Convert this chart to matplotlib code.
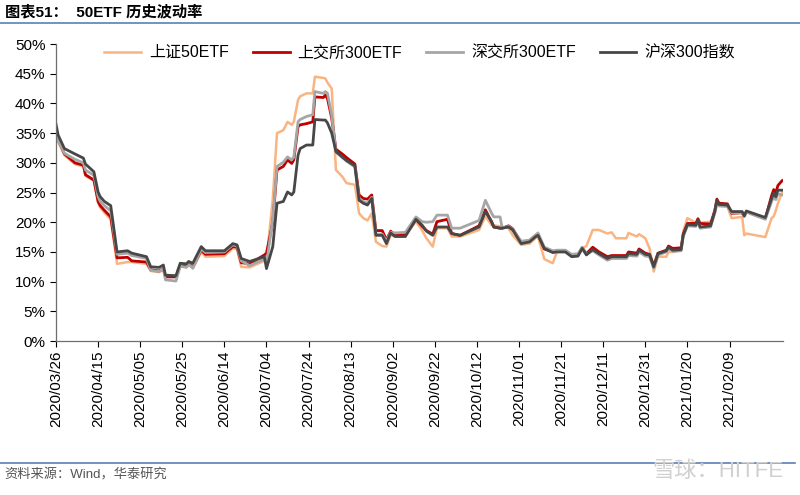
import datetime as dt
import matplotlib
matplotlib.use("Agg")
import matplotlib.pyplot as plt
import matplotlib.dates as mdates
from matplotlib.lines import Line2D
from matplotlib.ticker import MultipleLocator, FuncFormatter

plt.rcParams['font.family'] = ['Liberation Sans', 'Noto Sans CJK SC']

# --- DATA (historical volatility, %) ---
dates = [
    "2020-03-26", "2020-03-27", "2020-03-30", "2020-04-04", "2020-04-08", "2020-04-09",
    "2020-04-13", "2020-04-15", "2020-04-16", "2020-04-18", "2020-04-21", "2020-04-24",
    "2020-04-29", "2020-05-01", "2020-05-08", "2020-05-10", "2020-05-14", "2020-05-16",
    "2020-05-17", "2020-05-22", "2020-05-24", "2020-05-27", "2020-05-28", "2020-05-30",
    "2020-06-03", "2020-06-05", "2020-06-14", "2020-06-18", "2020-06-20", "2020-06-22",
    "2020-06-26", "2020-07-03", "2020-07-04", "2020-07-07", "2020-07-09", "2020-07-12",
    "2020-07-14", "2020-07-16", "2020-07-17", "2020-07-19", "2020-07-20", "2020-07-23",
    "2020-07-26", "2020-07-27", "2020-07-31", "2020-08-01", "2020-08-02", "2020-08-04",
    "2020-08-06", "2020-08-09", "2020-08-11", "2020-08-15", "2020-08-17", "2020-08-19",
    "2020-08-21", "2020-08-23", "2020-08-25", "2020-08-28", "2020-08-30", "2020-09-01",
    "2020-09-03", "2020-09-08", "2020-09-13", "2020-09-16", "2020-09-18", "2020-09-21",
    "2020-09-23", "2020-09-28", "2020-09-30", "2020-10-04", "2020-10-13", "2020-10-16",
    "2020-10-19", "2020-10-20", "2020-10-23", "2020-10-24", "2020-10-27", "2020-10-29",
    "2020-11-02", "2020-11-06", "2020-11-09", "2020-11-10", "2020-11-13", "2020-11-17",
    "2020-11-19", "2020-11-23", "2020-11-26", "2020-11-29", "2020-12-01", "2020-12-03",
    "2020-12-06", "2020-12-09", "2020-12-13", "2020-12-15", "2020-12-17", "2020-12-22",
    "2020-12-23", "2020-12-27", "2020-12-28", "2020-12-31", "2021-01-02", "2021-01-04",
    "2021-01-06", "2021-01-10", "2021-01-11", "2021-01-13", "2021-01-17", "2021-01-18",
    "2021-01-20", "2021-01-24", "2021-01-25", "2021-01-26", "2021-01-31", "2021-02-02",
    "2021-02-03", "2021-02-04", "2021-02-08", "2021-02-10", "2021-02-15", "2021-02-16",
    "2021-02-17", "2021-02-26", "2021-03-01", "2021-03-02", "2021-03-03", "2021-03-04",
    "2021-03-06",
]

hs300_index = [
    36.5, 34.7, 32.4, 31.5, 30.8, 29.8, 28.5, 25.1, 24.3, 23.5, 22.8, 15.0,
    15.2, 14.8, 14.2, 12.5, 12.4, 12.8, 11.1, 11.0, 13.1, 13.0, 13.4, 13.1,
    15.9, 15.2, 15.2, 16.4, 16.2, 13.9, 13.4, 14.2, 12.2, 15.9, 23.2, 23.5,
    25.1, 24.6, 25.1, 31.3, 32.4, 33.0, 33.0, 37.3, 37.2, 37.2, 36.7, 35.0,
    31.9, 31.0, 30.4, 29.5, 23.7, 23.2, 22.9, 24.0, 17.8, 17.8, 16.4, 18.2,
    17.6, 17.6, 20.5, 19.5, 18.5, 17.8, 19.2, 19.2, 18.1, 17.8, 19.2, 21.8,
    20.1, 19.2, 19.0, 19.0, 19.2, 18.7, 16.4, 16.7, 17.6, 17.8, 15.6, 14.9,
    15.0, 15.0, 14.2, 14.3, 15.6, 14.5, 15.4, 14.7, 13.9, 14.2, 14.2, 14.2,
    14.7, 14.6, 15.3, 14.6, 14.5, 12.5, 14.7, 15.2, 15.8, 15.3, 15.4, 17.8,
    19.6, 19.5, 20.4, 19.2, 19.4, 21.8, 23.7, 23.0, 22.9, 21.8, 21.8, 21.1,
    21.9, 20.8, 24.0, 24.9, 24.3, 25.4, 25.4,
]

sse300_etf = [
    35.8, 34.0, 31.5, 30.0, 29.6, 28.0, 27.1, 23.5, 22.8, 22.0, 20.9, 14.0,
    14.1, 13.5, 13.3, 12.0, 11.8, 12.2, 10.8, 10.8, 12.7, 12.5, 13.0, 12.5,
    15.3, 14.6, 14.7, 15.9, 15.8, 13.2, 13.0, 14.5, 14.8, 20.0, 28.8, 29.4,
    30.5, 29.9, 30.5, 36.1, 36.4, 36.6, 36.9, 41.1, 41.0, 41.4, 40.8, 37.5,
    32.3, 31.5, 30.9, 29.8, 24.6, 24.0, 23.9, 24.6, 18.6, 18.6, 17.0, 18.5,
    17.9, 17.9, 20.5, 19.3, 18.6, 18.0, 20.1, 20.5, 18.1, 17.8, 19.4, 22.1,
    20.0, 19.2, 19.0, 19.0, 19.4, 18.9, 16.6, 16.9, 17.8, 18.0, 15.5, 15.0,
    15.1, 15.2, 14.4, 14.5, 15.7, 14.7, 15.8, 15.0, 14.2, 14.4, 14.4, 14.4,
    15.0, 14.8, 15.5, 14.8, 14.6, 12.7, 14.8, 15.3, 16.0, 15.6, 15.7, 18.0,
    19.8, 19.8, 20.6, 19.8, 19.7, 22.0, 23.9, 23.2, 23.1, 21.5, 21.6, 21.0,
    21.8, 20.6, 24.5, 25.5, 25.0, 26.2, 27.0,
]

szse300_etf = [
    35.2, 33.8, 31.6, 30.6, 30.0, 28.8, 27.9, 24.3, 23.5, 22.8, 21.9, 14.6,
    14.8, 14.4, 13.9, 11.9, 11.7, 12.2, 10.3, 10.1, 12.6, 12.4, 12.9, 12.3,
    15.5, 14.9, 15.0, 16.2, 16.0, 13.5, 12.7, 13.8, 13.0, 20.5, 29.4, 30.1,
    31.0, 30.5, 31.0, 36.9, 37.3, 37.8, 38.1, 42.0, 41.7, 42.0, 41.7, 38.0,
    31.8, 30.9, 30.3, 29.3, 24.0, 23.5, 23.2, 24.2, 18.0, 18.0, 16.8, 18.3,
    18.2, 18.3, 20.9, 20.1, 20.0, 20.1, 21.2, 21.2, 19.0, 19.0, 20.3, 23.7,
    21.5, 20.9, 20.9, 19.0, 19.3, 18.8, 16.8, 17.0, 17.9, 18.2, 15.8, 15.2,
    15.3, 15.3, 14.6, 14.7, 15.8, 14.6, 15.2, 14.5, 13.6, 13.9, 13.9, 13.9,
    14.4, 14.3, 15.0, 14.3, 14.2, 12.3, 14.5, 15.0, 15.6, 15.1, 15.2, 17.6,
    19.4, 19.3, 20.2, 19.0, 19.2, 21.6, 23.5, 22.8, 22.7, 21.6, 21.6, 21.0,
    21.7, 20.5, 23.5, 24.3, 23.8, 24.8, 24.6,
]

sz50_etf = [
    34.8, 33.5, 31.3, 29.8, 29.4, 27.8, 27.0, 23.3, 22.5, 21.6, 20.5, 13.0,
    13.3, 13.3, 13.0, 11.8, 11.6, 12.0, 10.9, 11.0, 12.9, 12.7, 13.1, 12.2,
    15.0, 14.2, 14.3, 15.6, 15.5, 12.5, 12.4, 13.5, 13.6, 24.0, 35.0, 35.5,
    36.9, 36.4, 36.9, 40.6, 41.2, 41.7, 41.7, 44.5, 44.3, 44.2, 43.5, 42.5,
    28.8, 27.7, 26.6, 26.3, 21.5, 20.7, 20.3, 21.5, 16.7, 16.0, 15.9, 17.8,
    17.8, 17.9, 20.1, 18.6, 17.3, 15.9, 19.0, 19.0, 17.6, 17.6, 18.7, 21.0,
    19.5, 19.5, 19.3, 19.2, 19.0, 17.8, 16.2, 16.4, 17.4, 17.6, 13.8, 13.1,
    15.0, 15.0, 14.4, 14.5, 15.6, 16.0, 18.7, 18.7, 18.1, 18.3, 17.3, 17.3,
    18.2, 17.6, 18.0, 17.3, 15.6, 11.7, 14.2, 14.2, 15.0, 15.0, 15.3, 18.5,
    20.7, 19.9, 20.2, 19.9, 20.1, 21.5, 22.9, 22.7, 22.6, 20.7, 20.9, 17.8,
    18.1, 17.5, 20.7, 21.0, 22.0, 23.2, 25.1,
]

series_names = ["上证50ETF", "上交所300ETF", "深交所300ETF", "沪深300指数"]
tick_start = dt.date(2020, 3, 26)

# --- PLOT ---
x = [dt.datetime.strptime(d, "%Y-%m-%d") for d in dates]

fig = plt.figure(figsize=(8, 4.95), dpi=100)
ax = fig.add_axes([0.07, 0.311, 0.909, 0.600])

ax.plot(x, sz50_etf, color="#F9B482", lw=1.8, label=series_names[0])
ax.plot(x, sse300_etf, color="#C00000", lw=2.0, label=series_names[1])
ax.plot(x, szse300_etf, color="#A6A6A6", lw=2.0, label=series_names[2])
ax.plot(x, hs300_index, color="#474747", lw=2.0, label=series_names[3])

ax.set_ylim(0, 50)
ax.yaxis.set_major_locator(MultipleLocator(5))
ax.yaxis.set_major_formatter(FuncFormatter(lambda v, p: f"{v:.0f}%"))

xticks = [tick_start + dt.timedelta(days=20 * k) for k in range(17)]
ax.set_xticks(xticks)
ax.xaxis.set_major_formatter(mdates.DateFormatter("%Y/%m/%d"))
ax.set_xlim(dt.datetime(2020, 3, 26), dt.datetime(2020, 3, 26) + dt.timedelta(days=345.5))

for lab in ax.get_xticklabels():
    lab.set_rotation(90)
ax.tick_params(axis="both", labelsize=11, colors="#000000", length=4, width=0.8,
               direction="out")
ax.tick_params(axis="x", pad=3)

for s in ["top", "right"]:
    ax.spines[s].set_visible(False)
for s in ["left", "bottom"]:
    ax.spines[s].set_color("#6E6E6E")
    ax.spines[s].set_linewidth(0.9)

ax.legend(loc="upper center", bbox_to_anchor=(0.50, 1.045), ncol=4, frameon=False,
          fontsize=11.5, handlelength=2.3, handletextpad=0.5, columnspacing=1.5)

# header / footer
fig.text(0.006, 1 - 12 / 495, "图表51：  50ETF 历史波动率", fontsize=11,
         fontweight="bold", va="center", ha="left")
fig.add_artist(Line2D([0, 1], [1 - 23 / 495, 1 - 23 / 495], transform=fig.transFigure,
                      color="#5B7FB5", lw=1.2))
fig.add_artist(Line2D([0, 0.994], [1 - 463 / 495, 1 - 463 / 495],
                      transform=fig.transFigure, color="#5B7FB5", lw=1.2))
fig.text(0.006, 1 - 475 / 495, "资料来源：Wind，华泰研究", fontsize=9.5,
         color="#555555", va="center", ha="left")
fig.text(0.815, 1 - 471 / 495, "雪球：HITFE", fontsize=16, color="#D0D0D0",
         va="center", ha="left")

fig.savefig("out.png", dpi=100)
